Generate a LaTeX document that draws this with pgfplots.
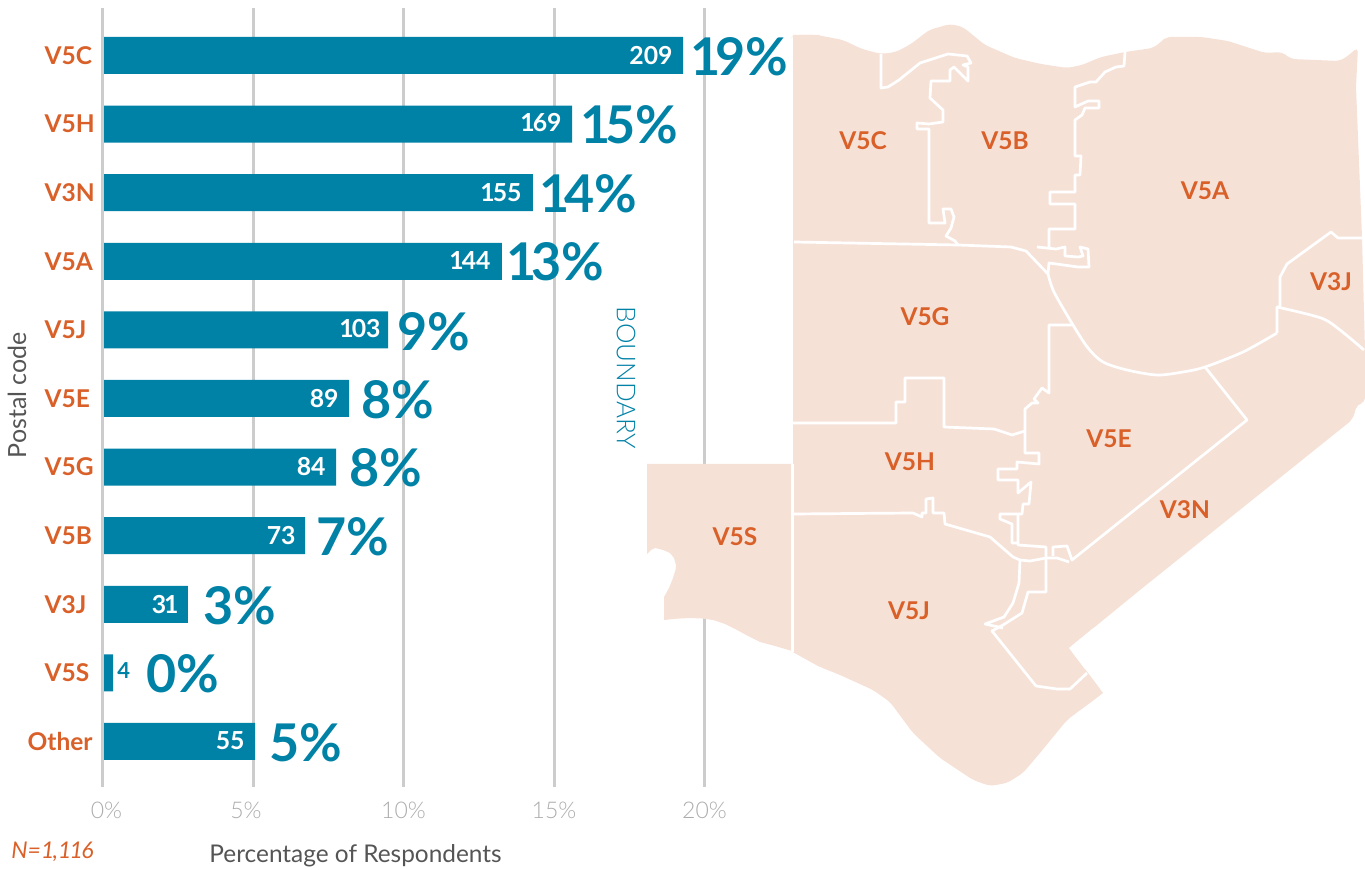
\documentclass[border=0pt]{standalone}
\usepackage{fontspec}
\usepackage{pgfplots}
\usepackage{pgfplotstable}
\pgfplotsset{compat=1.18}
\setmainfont{Lato}
\newfontfamily\lightfont{Lato Light}
\definecolor{barblue}{HTML}{0081A6}
\definecolor{labelorange}{HTML}{D96028}
\definecolor{mapfill}{HTML}{F6E1D7}
\definecolor{gridgrey}{HTML}{CCCCCC}
\definecolor{tickgrey}{HTML}{ACACAC}
\definecolor{textgrey}{HTML}{555555}

% bar end on the percent axis, row 0 at the top
\pgfplotstableread{
row pct
0 19.29
1 15.60
2 14.30
3 13.27
4 9.49
5 8.19
6 7.76
7 6.73
8 2.84
9 0.35
10 5.07
}\bartable

\newcommand\yl[1]{\makebox[24pt][l]{#1}}
\newcommand\pctlabel[3]{\node[anchor=west,inner sep=0pt,text=barblue,font=\fontsize{26}{26}\selectfont\bfseries] at (axis cs:#1,#2) {#3\%};}
\newcommand\countlabel[3]{\node[anchor=east,inner sep=0pt,text=white,font=\fontsize{12.4}{13}\selectfont\bfseries] at (axis cs:#1,#2) {#3};}
\newcommand\maplabel[3]{\node[text=labelorange,inner sep=0pt,font=\fontsize{12.25}{13}\selectfont\bfseries] at (axis cs:#1,#2) {#3};}
\newcommand\one{1\kern-2.8pt }
\newcommand\thin{1\kern-1pt }
\tikzset{border/.style={white, line width=1.35pt, line join=round, no marks}}

\begin{document}
\begin{tikzpicture}[x=1pt,y=1pt]
\path[use as bounding box] (0,0) rectangle (682.5,435);

\begin{axis}[
    at={(51.25pt,41.5pt)}, anchor=south west,
    scale only axis, width=301pt, height=389.5pt,
    xmin=0, xmax=20,
    ymin=-0.692, ymax=10.664, y dir=reverse,
    clip=false,
    axis line style={draw=none},
    major tick length=0pt,
    xmajorgrids,
    grid style={gridgrey, line width=1.5pt},
    xtick={0,5,10,15,20},
    xticklabels={\kern4pt 0\%,\kern-7pt 5\%,10\%,15\%,20\%},
    xticklabel style={anchor=north, inner sep=0pt, yshift=-7.5pt, text=tickgrey, font=\fontsize{11.5}{12}\lightfont},
    ytick={0,...,10},
    yticklabels={\yl{V5C},\yl{V5H},\yl{V3N},\yl{V5A},\yl{V5J},\yl{V5E},\yl{V5G},\yl{V5B},\yl{V3J},\yl{V5S},Other},
    yticklabel style={anchor=east, inner sep=0pt, xshift=-4.75pt, text=labelorange, font=\fontsize{12.25}{13}\selectfont\bfseries},
]
\addplot[xbar, bar width=18.5pt, fill=barblue, draw=none] table[x=pct,y=row] {\bartable};
\addplot[gridgrey, line width=1.5pt] coordinates {(0,-0.692) (0,10.664)};
\end{axis}

\begin{axis}[
    at={(0pt,0pt)}, anchor=south west,
    scale only axis, width=682.5pt, height=435pt,
    xmin=0, xmax=1365, ymin=0, ymax=870, y dir=reverse,
    hide axis, clip=false,
]
% main map outline
\addplot[fill=mapfill, draw=none, rounded corners=2.5pt] coordinates {
(793,36) (794,35) (817,35) (843,40) (862,49) (881,54) (896,52) (911,44) (929,30) (950,24) (963,27)
(985,45) (1015,58) (1041,64) (1067,68) (1082,65) (1101,57) (1125,52) (1153,48) (1161,42) (1166,37)
(1202,37) (1228,41) (1265,53) (1282,52) (1291,59) (1340,61) (1349,55) (1358,47) (1356,87) (1362,237)
(1365,350) (1365,403) (1357,404) (1355,412) (1352,420) (1140,590) (1069,648) (1103,693) (1067,720) (1040,753)
(1023,773) (1007,783) (990,786) (973,780) (940,758) (913,733) (890,702) (873,690) (840,675) (820,667)
(793,652)
};
% sharp corners that the rounding above takes off
\addplot[fill=mapfill, draw=none] coordinates {(1103,693) (1080,662.6) (1080,710)};
\addplot[fill=mapfill, draw=none] coordinates {(793,35) (820,35) (793,70)};
\addplot[fill=mapfill, draw=none] coordinates {(793,652) (793,620) (820,667)};
\addplot[fill=white, draw=none] coordinates {(1069,648) (1094,627.6) (1085,669.2)};
% V5S
\addplot[fill=mapfill, draw=none] coordinates {
(647,464) (792,464) (792,651) (775,646) (760,642) (748,636) (737,630) (725,624) (713,620) (702,618.5)
(690,618) (677,618.7) (664,620) (664,597) (669,588) (673,578) (675.5,570) (676,565) (674,558) (670,553)
(663,550) (655,548) (651,550) (647,554)
};
\addplot[border] coordinates {(792.5,464) (792.5,652)};
% V5C / V5B
\addplot[border] coordinates {
(881,54) (881,88) (888,87) (899,80) (920,63) (948,54) (967,56) (971,63) (963,65) (968,67)
(968,81) (954,67) (950,70) (950,81) (931,81) (930,98) (943,110) (943,122) (929,124) (917,123)
(917,129) (929,129) (929,223) (945,223) (943,209) (951,209) (954,217) (951,228) (946,236) (955,241) (958,245)
};
% north of V5G
\addplot[border] coordinates {(794,242) (958,245) (1011,247) (1026,251) (1048,274)};
% V5B / V5A
\addplot[border] coordinates {
(1125,52) (1124,66) (1116,67) (1105,72) (1096,82) (1090,82) (1075,87) (1075,107) (1088,101) (1099,101)
(1099,108) (1085,108) (1082,115) (1075,120) (1075,156) (1081,156) (1080,175) (1075,175) (1075,192) (1050,192)
(1050,204) (1075,204) (1075,229) (1049,229) (1049,247)
};
\addplot[border] coordinates {
(1037,247) (1056,249) (1065,247) (1065,256) (1078,257) (1083,256) (1080,247) (1088,249) (1089,267) (1078,267)
(1049,263) (1048,274)
};
% south of V5A
\addplot[border, smooth, tension=0.5] coordinates {
(1048,274) (1054,292) (1073,325) (1088,348) (1103,362) (1127,370) (1157,375) (1183,372) (1205,367) (1243,352) (1277,333)
};
\addplot[border] coordinates {(1277,333) (1277,307) (1280,307) (1280,277) (1287,264) (1331,232) (1338,238) (1362,238)};
% V3J / V3N
\addplot[border, smooth, tension=0.5] coordinates {(1277,307) (1321,318) (1340,330) (1364,350)};
% V5G / V5E and V5H / V5E
\addplot[border] coordinates {
(1073,325) (1049,325) (1049,393) (1042,388) (1034,399) (1038,403) (1032,403) (1025,409) (1025,453) (1039,453)
(1039,464) (1017,462) (1017,469) (998,469) (998,480) (1018,480) (1018,493) (1031,482) (1029,504) (1023,504)
(1022,514) (1000,514) (1000,519) (1012,524) (1012,543) (1018,543)
};
\addplot[border] coordinates {(1018,514) (1018,545) (1046,547) (1046,592) (1028,592) (1022,613) (1003,625) (992,631) (1036,686) (1057,689) (1070,689) (1087,673)};
% V5E / V3N
\addplot[border] coordinates {(1205,367) (1247,420) (1072,560) (1067,546) (1053,547) (1053,556)};
% V5H / V5J
\addplot[border] coordinates {
(793,514) (913,513) (922,517) (922,513) (926,513) (926,499) (933,498) (933,513) (944,513) (945,524)
(990,537) (1013,557) (1020,560) (1030,561) (1046,558) (1057,558) (1069,562)
};
% V5J / V3N
\addplot[border] coordinates {(1020,560) (1019,583) (1013,603) (1004,617) (985,624) (1003,628)};
% V5G / V5H
\addplot[border] coordinates {
(793,423) (896,423) (896,402) (905,402) (905,378) (944,378) (944,427) (994,429) (1012,435) (1025,431)
};

\maplabel{863}{141}{V5C}
\maplabel{1005}{141}{V5B}
\maplabel{1205}{191}{V5A}
\maplabel{1331}{282}{V3J}
\maplabel{925}{317}{V5G}
\maplabel{1109}{439}{V5E}
\maplabel{910}{462}{V5H}
\maplabel{735}{537}{V5S}
\maplabel{1185}{510}{V3N}
\maplabel{909}{611}{V5J}

\countlabel{673}{56}{209}
\countlabel{562}{123}{\thin 69}
\countlabel{522}{193}{\thin 55}
\countlabel{491}{261}{\thin 44}
\countlabel{381}{329}{\thin 03}
\countlabel{339}{399}{89}
\countlabel{326}{467}{84}
\countlabel{296}{536}{73}
\countlabel{179}{605}{3\kern-1pt 1}
\countlabel{245}{741}{55}
\node[anchor=west,inner sep=0pt,text=barblue,font=\fontsize{11}{12}\selectfont\bfseries] at (axis cs:117,671) {4};

\pctlabel{690}{57}{\one 9}
\pctlabel{580}{125}{\one 5}
\pctlabel{539}{194}{\one 4}
\pctlabel{506}{262}{\one 3}
\pctlabel{397}{332}{9}
\pctlabel{361}{400}{8}
\pctlabel{349}{468}{8}
\pctlabel{316}{537}{7}
\pctlabel{203}{606}{3}
\pctlabel{146}{674}{0}
\pctlabel{269}{743}{5}

\node[rotate=90,text=textgrey,inner sep=0pt,font=\fontsize{12.5}{13}\selectfont] at (axis cs:17,395) {Postal code};
\node[rotate=-90,text=barblue,inner sep=0pt,font=\fontsize{13}{13}\lightfont] at (axis cs:626,378) {BOUNDARY};
\node[anchor=west,text=textgrey,inner sep=0pt,font=\fontsize{12.2}{13}\selectfont] at (axis cs:209,856) {Percentage of Respondents};
\node[anchor=west,text=labelorange,inner sep=0pt,font=\fontsize{11.5}{12}\selectfont\itshape] at (axis cs:11,852) {N=1\kern-.8pt,1\kern-.8pt 1\kern-.8pt 6};
\end{axis}
\end{tikzpicture}
\end{document}
